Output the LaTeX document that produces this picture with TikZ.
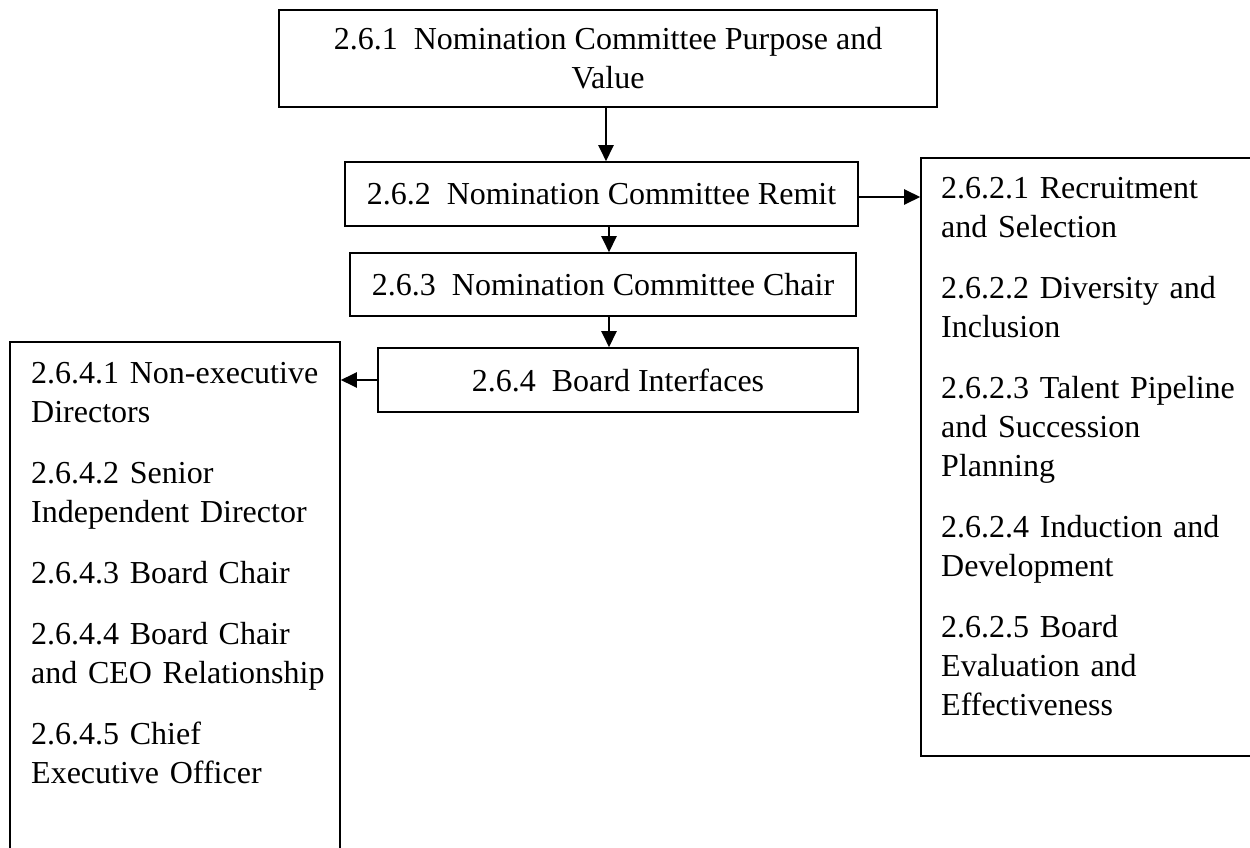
\documentclass[tikz,border=0pt]{standalone}
\usepackage{fontspec}
\setmainfont{Liberation Serif}
\usetikzlibrary{arrows.meta}
\begin{document}
\begin{tikzpicture}[x=1pt,y=-1pt,
  txt/.style={font=\fontsize{32}{39}\selectfont},
  box/.style={draw=black, line width=1.6pt, inner sep=0pt, align=center, txt},
  listbox/.style={draw=black, line width=1.6pt, inner sep=0pt},
  listtext/.style={txt, inner sep=0pt, anchor=base west, text width=330pt, align=left},
  arr/.style={line width=2.4pt, -{Triangle[length=16pt,width=15pt]}}]
\useasboundingbox (0,0) rectangle (1250,848);

% main chain of committee sections
\node[box, minimum width=658pt, minimum height=97pt] (b1) at (608,58.5)
  {2.6.1\enspace Nomination Committee Purpose and\\Value};
\node[box, minimum width=513pt, minimum height=64pt] (b2) at (601.5,194)
  {2.6.2\enspace Nomination Committee Remit};
\node[box, minimum width=506pt, minimum height=63pt] (b3) at (603,284.5)
  {2.6.3\enspace Nomination Committee Chair};
\node[box, minimum width=480pt, minimum height=64pt] (b4) at (618,380)
  {2.6.4\enspace Board Interfaces};

% side lists
\node[listbox, minimum width=330pt, minimum height=528pt] (lb) at (175,606) {};
\node[listbox, minimum width=349pt, minimum height=598pt] (rb) at (1095.5,457) {};

\node[listtext] (lt) at (31,383)
  {2.6.4.1 Non-executive\\Directors\\[22pt]
   2.6.4.2 Senior\\Independent Director\\[22pt]
   2.6.4.3 Board Chair\\[22pt]
   2.6.4.4 Board Chair\\and CEO Relationship\\[22pt]
   2.6.4.5 Chief\\Executive Officer};
\node[listtext] (rt) at (941,198)
  {2.6.2.1 Recruitment\\and Selection\\[22pt]
   2.6.2.2 Diversity and\\Inclusion\\[22pt]
   2.6.2.3 Talent Pipeline\\and Succession\\Planning\\[22pt]
   2.6.2.4 Induction and\\Development\\[22pt]
   2.6.2.5 Board\\Evaluation and\\Effectiveness};

% connectors
\coordinate (x1) at (606,0);
\coordinate (x2) at (609,0);
\coordinate (y5) at (0,197);
\draw[arr] (b1.south -| x1) -- (b2.north -| x1);
\draw[arr] (b2.south -| x2) -- (b3.north -| x2);
\draw[arr] (b3.south -| x2) -- (b4.north -| x2);
\draw[arr] (b4.west) -- (lb.east |- b4.west);
\draw[arr] (b2.east |- y5) -- (rb.west |- y5);
\end{tikzpicture}
\end{document}
